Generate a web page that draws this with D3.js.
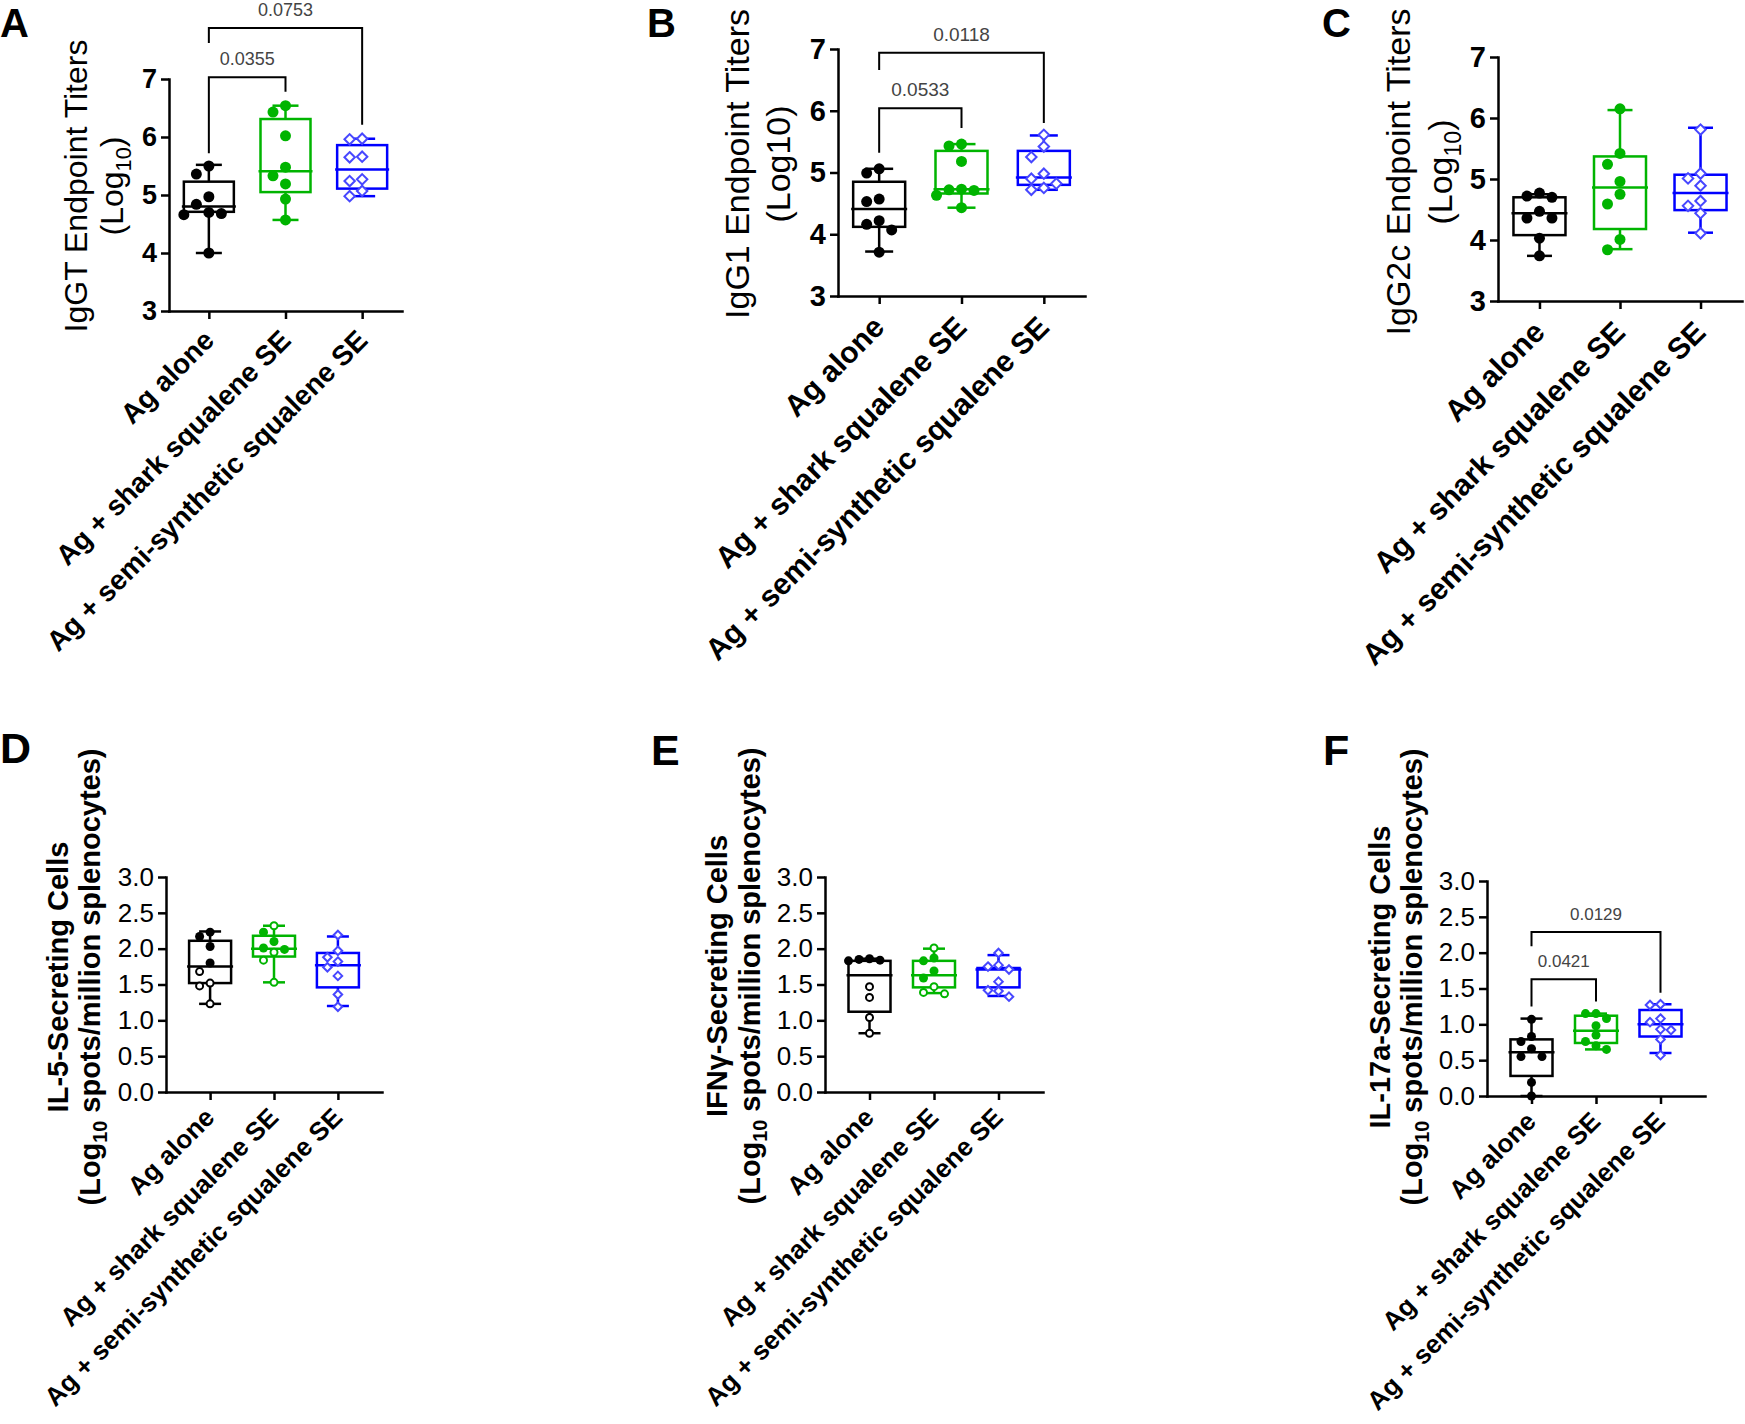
<!DOCTYPE html>
<html><head><meta charset="utf-8">
<script src="https://cdn.jsdelivr.net/npm/d3@7"></script>
<style>
body{margin:0;background:#fff}
svg{display:block}
text{font-family:"Liberation Sans",Arial,Helvetica,sans-serif}
</style>
</head><body>
<svg id="chart" width="1745" height="1424"></svg>
<script>
// ---------------- DATA ----------------
const categories = ["Ag alone", "Ag + shark squalene SE", "Ag + semi-synthetic squalene SE"];
const titerTicks = [3, 4, 5, 6, 7];
const elispotTicks = [0, 0.5, 1, 1.5, 2, 2.5, 3];

// Box stats per group: [min, Q1, median, Q3, max]
// A: IgGT
const iggtPoints = [
  [5.50, 5.36, 4.97, 4.84, 4.70, 4.66, 4.68, 4.00],
  [6.43, 6.54, 6.02, 5.48, 5.33, 5.19, 4.93, 4.57],
  [5.96, 5.97, 5.65, 5.66, 5.24, 5.27, 4.98, 5.07]
];
const iggtBox = [[4.00, 4.71, 4.80, 5.23, 5.52], [4.57, 5.05, 5.41, 6.31, 6.54], [4.98, 5.11, 5.44, 5.86, 5.97]];
const iggtPvals = [
  {from: 0, to: 1, label: "0.0355", top: 7.03, leftEnd: 5.72, rightEnd: 6.78},
  {from: 0, to: 2, label: "0.0753", top: 7.88, leftEnd: 7.62, rightEnd: 6.21}
];

// B: IgG1
const igg1Points = [
  [4.99, 5.06, 4.57, 4.53, 4.22, 4.16, 4.07, 3.71],
  [5.43, 5.46, 5.18, 4.73, 4.71, 4.72, 4.63, 4.43],
  [5.61, 5.42, 5.25, 4.98, 4.90, 4.82, 4.75, 4.72]
];
const igg1Box = [[3.72, 4.12, 4.41, 4.85, 5.06], [4.43, 4.66, 4.73, 5.35, 5.46], [4.72, 4.80, 4.92, 5.35, 5.60]];
const igg1Pvals = [
  {from: 0, to: 1, label: "0.0533", top: 6.04, leftEnd: 5.32, rightEnd: 5.72},
  {from: 0, to: 2, label: "0.0118", top: 6.94, leftEnd: 6.66, rightEnd: 5.80}
];

// C: IgG2c
const igg2cPoints = [
  [4.70, 4.72, 4.77, 4.36, 4.47, 4.36, 4.03, 3.74],
  [6.15, 5.42, 5.24, 4.96, 4.75, 4.59, 4.01, 3.84],
  [5.81, 5.01, 5.09, 4.89, 4.64, 4.56, 4.44, 4.11]
];
const igg2cBox = [[3.74, 4.08, 4.44, 4.70, 4.75], [3.85, 4.18, 4.86, 5.37, 6.13], [4.12, 4.49, 4.77, 5.07, 5.84]];
const igg2cPvals = [];

// D: IL-5 (filled = cohort 1, open = cohort 2)
const il5Points = [
  [2.23, 2.17, 2.03, 1.80],
  [2.23, 2.10, 1.99, 2.01],
  [2.19, 1.97, 1.88, 1.82, 1.74, 1.62, 1.36, 1.19]
];
const il5OpenPoints = [
  [1.68, 1.52, 1.48, 1.23],
  [2.32, 1.95, 1.84, 1.53],
  []
];
const il5Box = [[1.23, 1.52, 1.75, 2.11, 2.24], [1.53, 1.89, 2.00, 2.18, 2.32], [1.20, 1.46, 1.77, 1.94, 2.17]];

// E: IFNg
const ifngPoints = [
  [1.86, 1.85, 1.84, 1.83],
  [1.83, 1.87, 1.69, 1.59],
  [1.94, 1.77, 1.75, 1.71, 1.54, 1.42, 1.41, 1.33]
];
const ifngOpenPoints = [
  [1.47, 1.32, 1.04, 0.82],
  [2.01, 1.47, 1.37, 1.39],
  []
];
const ifngBox = [[0.82, 1.12, 1.63, 1.83, 1.86], [1.38, 1.46, 1.63, 1.83, 2.00], [1.34, 1.46, 1.71, 1.73, 1.91]];

// F: IL-17a
const il17Points = [
  [1.07, 0.76, 0.83, 0.66, 0.55, 0.55, 0.19, 0.00],
  [1.08, 1.15, 1.15, 0.98, 0.85, 0.76, 0.70, 0.65],
  [1.27, 1.28, 1.08, 1.03, 0.93, 0.92, 0.79, 0.57]
];
const il17Box = [[0.00, 0.28, 0.61, 0.79, 1.08], [0.65, 0.74, 0.91, 1.12, 1.15], [0.60, 0.83, 1.00, 1.20, 1.28]];
const il17Pvals = [
  {from: 0, to: 1, label: "0.0421", top: 1.63, leftEnd: 1.25, rightEnd: 1.32},
  {from: 0, to: 2, label: "0.0129", top: 2.29, leftEnd: 2.09, rightEnd: 1.44}
];

// ---------------- STYLE / LAYOUT ----------------
const lineColors = ["#000000", "#00b400", "#0000ff"];
const markColors = ["#000000", "#00b400", "#4747ff"];

const panels = [
  {letter: "A", lx: 0, ly: 37, lsize: 40,
   axisX: 169, axisEnd: 402, yTop: 79, yBottom: 311, pad: 0.52, domain: [3, 7], ticks: titerTicks, fmt: d3.format("d"),
   tickSize: 27, tickBold: true, boxW: 50, capW: 26, r: 5.5, labSize: 28, labDx: 7, labDy: 31,
   title1: "IgGT Endpoint Titers", title2: ["(Log", "10", ")"], titleSize: 32, titleBold: false, t1: -82, t2: -46, tcy: 186,
   points: iggtPoints, open: [[], [], []], box: iggtBox, pvals: iggtPvals, pSize: 18},
  {letter: "B", lx: 647, ly: 37, lsize: 40,
   axisX: 838, axisEnd: 1085, yTop: 49, yBottom: 296, pad: 0.5, domain: [3, 7], ticks: titerTicks, fmt: d3.format("d"),
   tickSize: 29, tickBold: true, boxW: 52, capW: 28, r: 5.5, labSize: 30, labDx: 7, labDy: 33,
   title1: "IgG1 Endpoint Titers", title2: ["(Log10)"], titleSize: 34, titleBold: false, t1: -89, t2: -48, tcy: 164,
   points: igg1Points, open: [[], [], []], box: igg1Box, pvals: igg1Pvals, pSize: 19},
  {letter: "C", lx: 1322, ly: 37, lsize: 40,
   axisX: 1498, axisEnd: 1742, yTop: 57, yBottom: 301, pad: 0.515, domain: [3, 7], ticks: titerTicks, fmt: d3.format("d"),
   tickSize: 29, tickBold: true, boxW: 52, capW: 25, r: 5.5, labSize: 30, labDx: 7, labDy: 33,
   title1: "IgG2c Endpoint Titers", title2: ["(Log", "10", ")"], titleSize: 34, titleBold: false, t1: -88, t2: -46, tcy: 172,
   points: igg2cPoints, open: [[], [], []], box: igg2cBox, pvals: igg2cPvals, pSize: 19},
  {letter: "D", lx: 0, ly: 763, lsize: 43,
   axisX: 166, axisEnd: 382, yTop: 877, yBottom: 1092, pad: 0.69, domain: [0, 3], ticks: elispotTicks, fmt: d3.format(".1f"),
   tickSize: 26, tickBold: false, boxW: 42, capW: 22, r: 4.5, labSize: 26, labDx: 6, labDy: 27,
   title1: "IL-5-Secreting Cells", title2: ["(Log", "10", " spots/million splenocytes)"], titleSize: 29, titleBold: true, t1: -98, t2: -66, tcy: 977,
   points: il5Points, open: il5OpenPoints, box: il5Box, pvals: [], pSize: 17},
  {letter: "E", lx: 651, ly: 765, lsize: 43,
   axisX: 825, axisEnd: 1043, yTop: 877, yBottom: 1092, pad: 0.69, domain: [0, 3], ticks: elispotTicks, fmt: d3.format(".1f"),
   tickSize: 26, tickBold: false, boxW: 42, capW: 22, r: 4.5, labSize: 26, labDx: 6, labDy: 27,
   title1: "IFNγ-Secreting Cells", title2: ["(Log", "10", " spots/million splenocytes)"], titleSize: 29, titleBold: true, t1: -98, t2: -65, tcy: 976,
   points: ifngPoints, open: ifngOpenPoints, box: ifngBox, pvals: [], pSize: 17},
  {letter: "F", lx: 1323, ly: 765, lsize: 43,
   axisX: 1487, axisEnd: 1705, yTop: 881, yBottom: 1096, pad: 0.69, domain: [0, 3], ticks: elispotTicks, fmt: d3.format(".1f"),
   tickSize: 26, tickBold: false, boxW: 42, capW: 22, r: 4.5, labSize: 26, labDx: 6, labDy: 27,
   title1: "IL-17a-Secreting Cells", title2: ["(Log", "10", " spots/million splenocytes)"], titleSize: 29, titleBold: true, t1: -97, t2: -65, tcy: 977,
   points: il17Points, open: [[], [], []], box: il17Box, pvals: il17Pvals, pSize: 17}
];

const svg = d3.select("#chart");

// simple beeswarm offsets
function swarm(items, y, r) {
  const step = 2 * r + 1.5;
  const placed = [];
  const order = items.map((d, i) => ({d, i})).sort((a, b) => b.d.v - a.d.v);
  const offs = new Array(items.length).fill(0);
  const cands = [0, -step, step, -2 * step, 2 * step, -3 * step, 3 * step];
  order.forEach(({d, i}) => {
    const py = y(d.v);
    for (const c of cands) {
      if (placed.every(p => Math.hypot(p.x - c, p.y - py) >= 2 * r)) {
        placed.push({x: c, y: py}); offs[i] = c; break;
      }
    }
  });
  return offs;
}

function drawPanel(cfg) {
  const g = svg.append("g");
  const y = d3.scaleLinear().domain(cfg.domain).range([cfg.yBottom, cfg.yTop]);
  const x = d3.scalePoint().domain(categories).range([cfg.axisX, cfg.axisEnd]).padding(cfg.pad);

  // panel letter
  g.append("text").attr("x", cfg.lx).attr("y", cfg.ly)
    .style("font-size", cfg.lsize + "px").style("font-weight", "bold").text(cfg.letter);

  // y axis
  const ya = g.append("g").attr("transform", `translate(${cfg.axisX},0)`)
    .call(d3.axisLeft(y).tickValues(cfg.ticks).tickFormat(cfg.fmt).tickSize(8).tickSizeOuter(0).tickPadding(4));
  ya.selectAll("path,line").attr("stroke", "#000").attr("stroke-width", 2.5);
  ya.select(".domain").attr("stroke-linecap", "square");
  ya.selectAll("text").attr("fill", "#000")
    .style("font-size", cfg.tickSize + "px")
    .style("font-weight", cfg.tickBold ? "bold" : "normal")
    .style("font-family", '"Liberation Sans",Arial,sans-serif');

  // x axis
  const xa = g.append("g").attr("transform", `translate(0,${cfg.yBottom})`)
    .call(d3.axisBottom(x).tickSize(8).tickSizeOuter(0).tickFormat(""));
  xa.selectAll("path,line").attr("stroke", "#000").attr("stroke-width", 2.5);
  xa.select(".domain").attr("stroke-linecap", "square");

  // category labels
  g.selectAll(".cat").data(categories).join("text")
    .attr("class", "cat")
    .attr("transform", d => `translate(${x(d) + cfg.labDx},${cfg.yBottom + cfg.labDy}) rotate(-45)`)
    .attr("text-anchor", "end")
    .style("font-size", cfg.labSize + "px")
    .style("font-weight", "bold")
    .text(d => d);

  // y title
  const tw = cfg.titleBold ? "bold" : "normal";
  g.append("text")
    .attr("transform", `translate(${cfg.axisX + cfg.t1},${cfg.tcy}) rotate(-90)`)
    .attr("text-anchor", "middle")
    .style("font-size", cfg.titleSize + "px").style("font-weight", tw)
    .text(cfg.title1);
  const t2 = g.append("text")
    .attr("transform", `translate(${cfg.axisX + cfg.t2},${cfg.tcy}) rotate(-90)`)
    .attr("text-anchor", "middle")
    .style("font-size", cfg.titleSize + "px").style("font-weight", tw);
  const sub = cfg.titleSize * 0.25;
  cfg.title2.forEach((s, i) => {
    const ts = t2.append("tspan").text(s);
    if (cfg.title2.length === 3 && i === 1) ts.attr("dy", sub).style("font-size", (cfg.titleSize * 0.68) + "px");
    if (cfg.title2.length === 3 && i === 2) ts.attr("dy", -sub);
  });

  // boxes
  cfg.box.forEach((b, i) => {
    const cx = x(categories[i]);
    const col = lineColors[i];
    const bg = g.append("g").attr("stroke", col).attr("stroke-width", 2.5).attr("fill", "none");
    bg.append("line").attr("x1", cx).attr("x2", cx).attr("y1", y(b[0])).attr("y2", y(b[1]));
    bg.append("line").attr("x1", cx).attr("x2", cx).attr("y1", y(b[3])).attr("y2", y(b[4]));
    bg.append("line").attr("x1", cx - cfg.capW / 2).attr("x2", cx + cfg.capW / 2).attr("y1", y(b[0])).attr("y2", y(b[0]));
    bg.append("line").attr("x1", cx - cfg.capW / 2).attr("x2", cx + cfg.capW / 2).attr("y1", y(b[4])).attr("y2", y(b[4]));
    bg.append("rect").attr("x", cx - cfg.boxW / 2).attr("y", y(b[3]))
      .attr("width", cfg.boxW).attr("height", y(b[1]) - y(b[3]));
    bg.append("line").attr("x1", cx - cfg.boxW / 2 - 2).attr("x2", cx + cfg.boxW / 2 + 2)
      .attr("y1", y(b[2])).attr("y2", y(b[2]));
  });

  // points
  categories.forEach((c, i) => {
    const items = cfg.points[i].map(v => ({v, open: false})).concat(cfg.open[i].map(v => ({v, open: true})));
    const offs = swarm(items, y, cfg.r);
    const cx = x(c);
    items.forEach((d, k) => {
      const px = cx + offs[k], py = y(d.v);
      if (i === 2) {
        const h = cfg.r * 0.95;
        g.append("path")
          .attr("d", `M${px},${py - h}L${px + h},${py}L${px},${py + h}L${px - h},${py}Z`)
          .attr("fill", "#fff").attr("stroke", markColors[i]).attr("stroke-width", 2);
      } else if (d.open) {
        g.append("circle").attr("cx", px).attr("cy", py).attr("r", cfg.r - 1)
          .attr("fill", "#fff").attr("stroke", markColors[i]).attr("stroke-width", 2);
      } else {
        g.append("circle").attr("cx", px).attr("cy", py).attr("r", cfg.r)
          .attr("fill", markColors[i]);
      }
    });
  });

  // significance brackets
  cfg.pvals.forEach(p => {
    const x0 = x(categories[p.from]), x1 = x(categories[p.to]);
    g.append("path")
      .attr("d", `M${x0},${y(p.leftEnd)}V${y(p.top)}H${x1}V${y(p.rightEnd)}`)
      .attr("fill", "none").attr("stroke", "#000").attr("stroke-width", 2);
    g.append("text").attr("x", (x0 + x1) / 2).attr("y", y(p.top) - 12)
      .attr("text-anchor", "middle").attr("fill", "#444")
      .style("font-size", cfg.pSize + "px").text(p.label);
  });
}

panels.forEach(drawPanel);
</script>
</body></html>
